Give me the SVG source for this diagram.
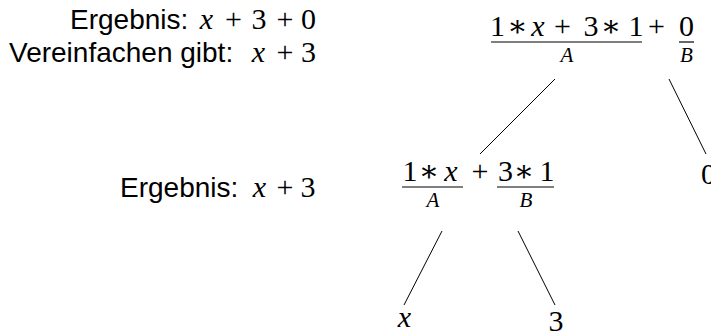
<svg xmlns="http://www.w3.org/2000/svg" width="711" height="336" viewBox="0 0 711 336">
<style>
.sans{font-family:"Liberation Sans",Arial,sans-serif;font-size:28px;fill:#000}
.m{font-family:"Liberation Serif","DejaVu Serif",serif;font-size:30px;fill:#000;text-anchor:middle}
.mi{font-style:italic}
.s{font-family:"Liberation Serif","DejaVu Serif",serif;font-size:21px;font-style:italic;fill:#000;text-anchor:middle}
.bar{stroke:#000;stroke-width:1.2}
.edge{stroke:#000;stroke-width:1;fill:none}
</style>
<rect width="711" height="336" fill="#fff"/>
<g id="annotations">
  <text class="sans" x="70" y="29">Ergebnis:</text>
  <text class="m mi" x="206.5" y="29">x</text>
  <text class="m" x="233.5" y="29">+</text>
  <text class="m" x="259" y="29">3</text>
  <text class="m" x="285" y="29">+</text>
  <text class="m" x="308.5" y="29">0</text>
  <text class="sans" x="9" y="62">Vereinfachen gibt:</text>
  <text class="m mi" x="258.5" y="62">x</text>
  <text class="m" x="285" y="62">+</text>
  <text class="m" x="308.5" y="62">3</text>
  <text class="sans" x="120" y="197">Ergebnis:</text>
  <text class="m mi" x="259.5" y="197">x</text>
  <text class="m" x="285" y="197">+</text>
  <text class="m" x="308" y="197">3</text>
</g>
<g id="connectors">
  <line class="edge" x1="555" y1="79" x2="480" y2="154"/>
  <line class="edge" x1="669" y1="79" x2="706" y2="154"/>
  <line class="edge" x1="442" y1="231" x2="404" y2="305"/>
  <line class="edge" x1="518" y1="231" x2="555" y2="305"/>
</g>
<g id="node-root">
  <text class="m" x="497.5" y="36">1</text>
  <text class="m" x="517.5" y="36">∗</text>
  <text class="m mi" x="538" y="36">x</text>
  <text class="m" x="562.5" y="36">+</text>
  <text class="m" x="591" y="36">3</text>
  <text class="m" x="611" y="36">∗</text>
  <text class="m" x="636" y="36">1</text>
  <text class="m" x="656.5" y="36">+</text>
  <text class="m" x="686.5" y="36">0</text>
  <line class="bar" x1="491" y1="42" x2="642" y2="42"/>
  <line class="bar" x1="679" y1="42" x2="694" y2="42"/>
  <text class="s" x="567" y="62">A</text>
  <text class="s" x="686.5" y="62">B</text>
</g>
<g id="node-left">
  <text class="m" x="410" y="181">1</text>
  <text class="m" x="429" y="181">∗</text>
  <text class="m mi" x="451" y="181">x</text>
  <text class="m" x="480" y="181">+</text>
  <text class="m" x="505.5" y="181">3</text>
  <text class="m" x="524" y="181">∗</text>
  <text class="m" x="547" y="181">1</text>
  <line class="bar" x1="402" y1="187" x2="463" y2="187"/>
  <line class="bar" x1="497" y1="187" x2="554" y2="187"/>
  <text class="s" x="433" y="207">A</text>
  <text class="s" x="526" y="207">B</text>
</g>
<g id="node-right">
  <text class="m" x="708.5" y="184">0</text>
</g>
<g id="leaf-x">
  <text class="m mi" x="404.5" y="327">x</text>
</g>
<g id="leaf-3">
  <text class="m" x="556" y="331">3</text>
</g>
</svg>
